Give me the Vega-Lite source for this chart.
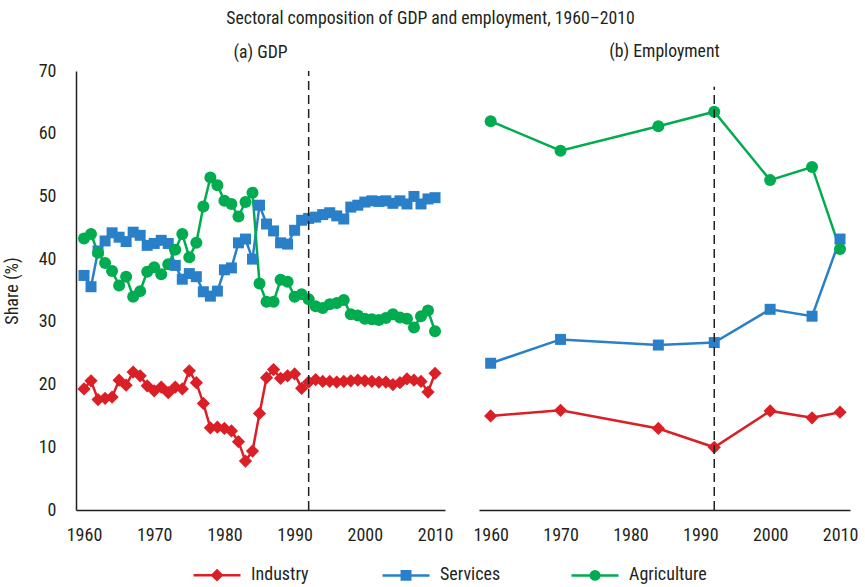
{
  "$schema": "https://vega.github.io/schema/vega-lite/v6.json",
  "padding": {"left": 3, "top": 10, "right": 5, "bottom": 5},
  "background": "white",
  "title": {"text": "Sectoral composition of GDP and employment, 1960–2010", "anchor": "middle", "fontSize": 17.7, "fontWeight": "normal", "color": "#231f20", "offset": 15.6},
  "spacing": 34,
  "bounds": "flush",
  "datasets": {
    "gdp": [
      {"year": 1960, "Industry": 19.3, "Services": 37.4, "Agriculture": 43.3},
      {"year": 1961, "Industry": 20.6, "Services": 35.6, "Agriculture": 44.0},
      {"year": 1962, "Industry": 17.6, "Services": 41.3, "Agriculture": 41.0},
      {"year": 1963, "Industry": 17.8, "Services": 42.9, "Agriculture": 39.4},
      {"year": 1964, "Industry": 18.0, "Services": 44.2, "Agriculture": 38.1},
      {"year": 1965, "Industry": 20.7, "Services": 43.5, "Agriculture": 35.8},
      {"year": 1966, "Industry": 19.9, "Services": 42.8, "Agriculture": 37.2},
      {"year": 1967, "Industry": 22.0, "Services": 44.3, "Agriculture": 34.0},
      {"year": 1968, "Industry": 21.4, "Services": 43.8, "Agriculture": 34.9},
      {"year": 1969, "Industry": 19.8, "Services": 42.2, "Agriculture": 38.0},
      {"year": 1970, "Industry": 19.0, "Services": 42.5, "Agriculture": 38.7},
      {"year": 1971, "Industry": 19.6, "Services": 43.0, "Agriculture": 37.6},
      {"year": 1972, "Industry": 18.7, "Services": 42.5, "Agriculture": 39.2},
      {"year": 1973, "Industry": 19.6, "Services": 39.0, "Agriculture": 41.5},
      {"year": 1974, "Industry": 19.3, "Services": 36.8, "Agriculture": 44.0},
      {"year": 1975, "Industry": 22.2, "Services": 37.7, "Agriculture": 40.3},
      {"year": 1976, "Industry": 20.3, "Services": 37.2, "Agriculture": 42.6},
      {"year": 1977, "Industry": 17.0, "Services": 34.8, "Agriculture": 48.4},
      {"year": 1978, "Industry": 13.1, "Services": 34.1, "Agriculture": 53.0},
      {"year": 1979, "Industry": 13.2, "Services": 34.9, "Agriculture": 51.8},
      {"year": 1980, "Industry": 13.0, "Services": 38.3, "Agriculture": 49.3},
      {"year": 1981, "Industry": 12.6, "Services": 38.6, "Agriculture": 48.8},
      {"year": 1982, "Industry": 10.9, "Services": 42.6, "Agriculture": 46.8},
      {"year": 1983, "Industry": 7.8, "Services": 43.2, "Agriculture": 49.1},
      {"year": 1984, "Industry": 9.4, "Services": 40.0, "Agriculture": 50.6},
      {"year": 1985, "Industry": 15.4, "Services": 48.6, "Agriculture": 36.1},
      {"year": 1986, "Industry": 21.1, "Services": 45.6, "Agriculture": 33.2},
      {"year": 1987, "Industry": 22.4, "Services": 44.5, "Agriculture": 33.2},
      {"year": 1988, "Industry": 21.0, "Services": 42.6, "Agriculture": 36.7},
      {"year": 1989, "Industry": 21.4, "Services": 42.4, "Agriculture": 36.4},
      {"year": 1990, "Industry": 21.7, "Services": 44.6, "Agriculture": 34.0},
      {"year": 1991, "Industry": 19.4, "Services": 46.2, "Agriculture": 34.4},
      {"year": 1992, "Industry": 20.4, "Services": 46.5, "Agriculture": 33.6},
      {"year": 1993, "Industry": 20.8, "Services": 46.7, "Agriculture": 32.5},
      {"year": 1994, "Industry": 20.5, "Services": 47.1, "Agriculture": 32.2},
      {"year": 1995, "Industry": 20.5, "Services": 47.4, "Agriculture": 32.8},
      {"year": 1996, "Industry": 20.4, "Services": 46.9, "Agriculture": 33.0},
      {"year": 1997, "Industry": 20.5, "Services": 46.4, "Agriculture": 33.5},
      {"year": 1998, "Industry": 20.6, "Services": 48.3, "Agriculture": 31.2},
      {"year": 1999, "Industry": 20.7, "Services": 48.6, "Agriculture": 31.0},
      {"year": 2000, "Industry": 20.6, "Services": 49.1, "Agriculture": 30.5},
      {"year": 2001, "Industry": 20.5, "Services": 49.3, "Agriculture": 30.4},
      {"year": 2002, "Industry": 20.4, "Services": 49.2, "Agriculture": 30.3},
      {"year": 2003, "Industry": 20.4, "Services": 49.3, "Agriculture": 30.6},
      {"year": 2004, "Industry": 20.0, "Services": 48.9, "Agriculture": 31.2},
      {"year": 2005, "Industry": 20.3, "Services": 49.3, "Agriculture": 30.7},
      {"year": 2006, "Industry": 20.9, "Services": 48.8, "Agriculture": 30.5},
      {"year": 2007, "Industry": 20.7, "Services": 50.0, "Agriculture": 29.1},
      {"year": 2008, "Industry": 20.5, "Services": 48.8, "Agriculture": 30.9},
      {"year": 2009, "Industry": 18.8, "Services": 49.6, "Agriculture": 31.8},
      {"year": 2010, "Industry": 21.8, "Services": 49.8, "Agriculture": 28.5}
    ],
    "emp": [
      {"year": 1960, "Industry": 15.0, "Services": 23.4, "Agriculture": 62.0},
      {"year": 1970, "Industry": 15.9, "Services": 27.2, "Agriculture": 57.3},
      {"year": 1984, "Industry": 13.0, "Services": 26.3, "Agriculture": 61.2},
      {"year": 1992, "Industry": 10.0, "Services": 26.7, "Agriculture": 63.5},
      {"year": 2000, "Industry": 15.8, "Services": 32.0, "Agriculture": 52.6},
      {"year": 2006, "Industry": 14.7, "Services": 30.9, "Agriculture": 54.7},
      {"year": 2010, "Industry": 15.6, "Services": 43.2, "Agriculture": 41.6}
    ],
    "mark1992": [{"year": 1992}]
  },
  "config": {
    "font": "Roboto Condensed, Liberation Sans Narrow, DejaVu Sans Condensed, sans-serif",
    "view": {"stroke": null},
    "axis": {"grid": false, "ticks": false, "domainColor": "#231f20", "domainWidth": 1.5, "labelColor": "#231f20", "labelFontSize": 18, "titleFontSize": 18, "titleFontWeight": "normal", "titleColor": "#231f20", "labelFlush": false},
    "title": {"fontWeight": "normal", "fontSize": 17.7, "color": "#231f20"}
  },
  "hconcat": [
    {
      "width": 369,
      "height": 439,
      "title": {"text": "(a) GDP", "offset": 0},
      "layer": [
        {
          "data": {"name": "gdp"},
          "transform": [{"fold": ["Industry", "Services", "Agriculture"], "as": ["series", "value"]}],
          "mark": {"type": "line", "strokeWidth": 2.5},
          "encoding": {
            "x": {"field": "year", "type": "quantitative", "scale": {"domain": [1958.86, 2011.42], "nice": false, "zero": false}, "axis": {"title": null, "values": [1960, 1970, 1980, 1990, 2000, 2010], "format": "d", "labelPadding": 16}},
            "y": {"field": "value", "type": "quantitative", "scale": {"domain": [0, 70], "nice": false}, "axis": {"title": "Share (%)", "values": [0, 10, 20, 30, 40, 50, 60, 70], "labelPadding": 20, "titlePadding": 17}},
            "detail": {"field": "series", "type": "nominal"},
            "color": {"condition": [{"test": "datum.series === 'Industry'", "value": "#da1f26"}, {"test": "datum.series === 'Services'", "value": "#2a80c8"}], "value": "#00ac4f"}
          }
        },
        {
          "data": {"name": "gdp"},
          "transform": [{"fold": ["Industry", "Services", "Agriculture"], "as": ["series", "value"]}],
          "mark": {"type": "point", "filled": true, "opacity": 1},
          "encoding": {
            "x": {"field": "year", "type": "quantitative"},
            "y": {"field": "value", "type": "quantitative"},
            "color": {"condition": [{"test": "datum.series === 'Industry'", "value": "#da1f26"}, {"test": "datum.series === 'Services'", "value": "#2a80c8"}], "value": "#00ac4f"},
            "shape": {"condition": [{"test": "datum.series === 'Industry'", "value": "diamond"}, {"test": "datum.series === 'Services'", "value": "square"}], "value": "circle"},
            "size": {"condition": [{"test": "datum.series === 'Industry'", "value": 175}, {"test": "datum.series === 'Services'", "value": 121}], "value": 144}
          }
        },
        {
          "data": {"name": "mark1992"},
          "mark": {"type": "rule", "strokeDash": [9, 5], "strokeWidth": 1.5, "color": "#231f20"},
          "encoding": {
            "x": {"field": "year", "type": "quantitative"},
            "y": {"datum": 0, "type": "quantitative"},
            "y2": {"datum": 70}
          }
        }
      ]
    },
    {
      "width": 371,
      "height": 439,
      "title": {"text": "(b) Employment", "offset": 10},
      "layer": [
        {
          "data": {"name": "emp"},
          "transform": [{"fold": ["Industry", "Services", "Agriculture"], "as": ["series", "value"]}],
          "mark": {"type": "line", "strokeWidth": 2.5},
          "encoding": {
            "x": {"field": "year", "type": "quantitative", "scale": {"domain": [1958.33, 2011.43], "nice": false, "zero": false}, "axis": {"title": null, "values": [1960, 1970, 1980, 1990, 2000, 2010], "format": "d", "labelPadding": 16}},
            "y": {"field": "value", "type": "quantitative", "scale": {"domain": [0, 70], "nice": false}, "axis": null},
            "detail": {"field": "series", "type": "nominal"},
            "color": {"condition": [{"test": "datum.series === 'Industry'", "value": "#da1f26"}, {"test": "datum.series === 'Services'", "value": "#2a80c8"}], "value": "#00ac4f"}
          }
        },
        {
          "data": {"name": "emp"},
          "transform": [{"fold": ["Industry", "Services", "Agriculture"], "as": ["series", "value"]}],
          "mark": {"type": "point", "filled": true, "opacity": 1},
          "encoding": {
            "x": {"field": "year", "type": "quantitative"},
            "y": {"field": "value", "type": "quantitative"},
            "color": {"condition": [{"test": "datum.series === 'Industry'", "value": "#da1f26"}, {"test": "datum.series === 'Services'", "value": "#2a80c8"}], "value": "#00ac4f"},
            "shape": {"condition": [{"test": "datum.series === 'Industry'", "value": "diamond"}, {"test": "datum.series === 'Services'", "value": "square"}], "value": "circle"},
            "size": {"condition": [{"test": "datum.series === 'Industry'", "value": 175}, {"test": "datum.series === 'Services'", "value": 121}], "value": 144}
          }
        },
        {
          "data": {"name": "mark1992"},
          "mark": {"type": "rule", "strokeDash": [9, 5], "strokeWidth": 1.5, "color": "#231f20"},
          "encoding": {
            "x": {"field": "year", "type": "quantitative"},
            "y": {"datum": 0, "type": "quantitative"},
            "y2": {"datum": 67.5}
          }
        },
        {
          "data": {"name": "emp"},
          "transform": [{"fold": ["Industry", "Services", "Agriculture"], "as": ["series", "value"]}, {"filter": "false"}],
          "mark": {"type": "point", "filled": false, "opacity": 1, "strokeWidth": 2.5},
          "encoding": {
            "x": {"field": "year", "type": "quantitative"},
            "y": {"field": "value", "type": "quantitative"},
            "color": {"field": "series", "type": "nominal", "scale": {"domain": ["Industry", "Services", "Agriculture"], "range": ["#da1f26", "#2a80c8", "#00ac4f"]}, "legend": {"title": null, "orient": "none", "legendX": 116, "legendY": 479, "direction": "horizontal", "columns": 3, "gridAlign": "all", "columnPadding": 48, "symbolSize": 2209, "symbolStrokeWidth": 2.5, "labelFontSize": 18, "labelColor": "#231f20", "labelOffset": 9}},
            "shape": {"field": "series", "type": "nominal", "scale": {"domain": ["Industry", "Services", "Agriculture"], "range": ["M-1,0H1M0,-0.2L0.2,0L0,0.2L-0.2,0ZM0,-0.13L0.13,0L0,0.13L-0.13,0ZM0,-0.06L0.06,0L0,0.06L-0.06,0Z", "M-1,0H1M-0.18,-0.18H0.18V0.18H-0.18ZM-0.11,-0.11H0.11V0.11H-0.11ZM-0.04,-0.04H0.04V0.04H-0.04Z", "M-1,0H1M0.18,0A0.18,0.18,0,1,1,-0.18,0A0.18,0.18,0,1,1,0.18,0ZM0.11,0A0.11,0.11,0,1,1,-0.11,0A0.11,0.11,0,1,1,0.11,0ZM0.04,0A0.04,0.04,0,1,1,-0.04,0A0.04,0.04,0,1,1,0.04,0Z"]}, "legend": {"title": null, "orient": "none", "legendX": 116, "legendY": 479, "direction": "horizontal", "columns": 3, "gridAlign": "all", "columnPadding": 48, "symbolSize": 2209, "symbolStrokeWidth": 2.5, "labelFontSize": 18, "labelColor": "#231f20", "labelOffset": 9}}
          }
        }
      ]
    }
  ]
}
